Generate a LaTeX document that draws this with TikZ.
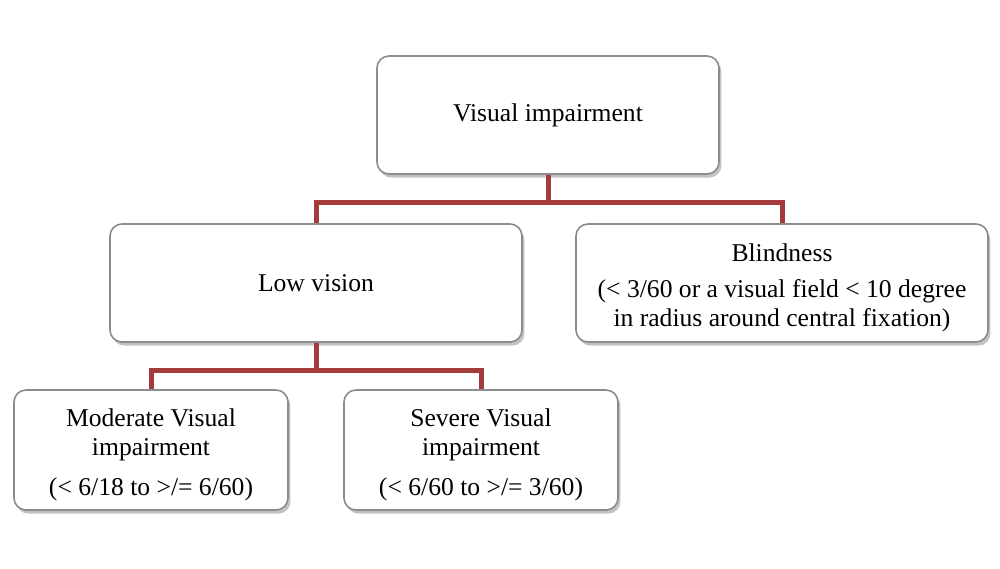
\documentclass[tikz,border=0pt]{standalone}
\usepackage{fontspec}
\setmainfont{Liberation Serif}
\usetikzlibrary{shadows}
\definecolor{linkred}{HTML}{A33B3B}

\begin{document}
\begin{tikzpicture}[
		x=0.5pt, y=-0.5pt,
		box/.style={draw=black!45, line width=0.8pt, rounded corners=6pt, fill=white, align=center, inner sep=0pt,
			font=\fontsize{12.8}{14.5}\selectfont,
			drop shadow={shadow xshift=1.2pt, shadow yshift=-1.8pt, fill=black!40, opacity=0.6}},
		link/.style={draw=linkred, line width=2.5pt},
	]
		\useasboundingbox (0,0) rectangle (1000,568);
		
		\node (vis) [box, minimum width=171pt, minimum height=59pt] at (548,115) {Visual impairment};
		\node (low) [box, minimum width=206pt, minimum height=59pt] at (316,283) {Low vision};
		\node (blind) [box, minimum width=206pt, minimum height=59pt] at (782,283)
			{\rule{0pt}{14pt}Blindness\\[3.5pt](< 3/60 or a visual field < 10 degree\\in radius around central fixation)};
		\node (mod) [box, minimum width=137pt, minimum height=60pt] at (151,450)
			{\rule{0pt}{14pt}Moderate Visual\\impairment\\[5.5pt](< 6/18 to >/= 6/60)};
		\node (sev) [box, minimum width=137pt, minimum height=60pt] at (481,450)
			{\rule{0pt}{14pt}Severe Visual\\impairment\\[5.5pt](< 6/60 to >/= 3/60)};
		
		\coordinate (split) at (548,202);
		\coordinate (split2) at (316,370);
		
		\draw[link] (vis) -- (split);
		\draw[link] (split) -| (low);
		\draw[link] (split) -| (blind);
		\draw[link] (low) -- (split2);
		\draw[link] (split2) -| (mod);
		\draw[link] (split2) -| (sev);
	\end{tikzpicture}
\end{document}
